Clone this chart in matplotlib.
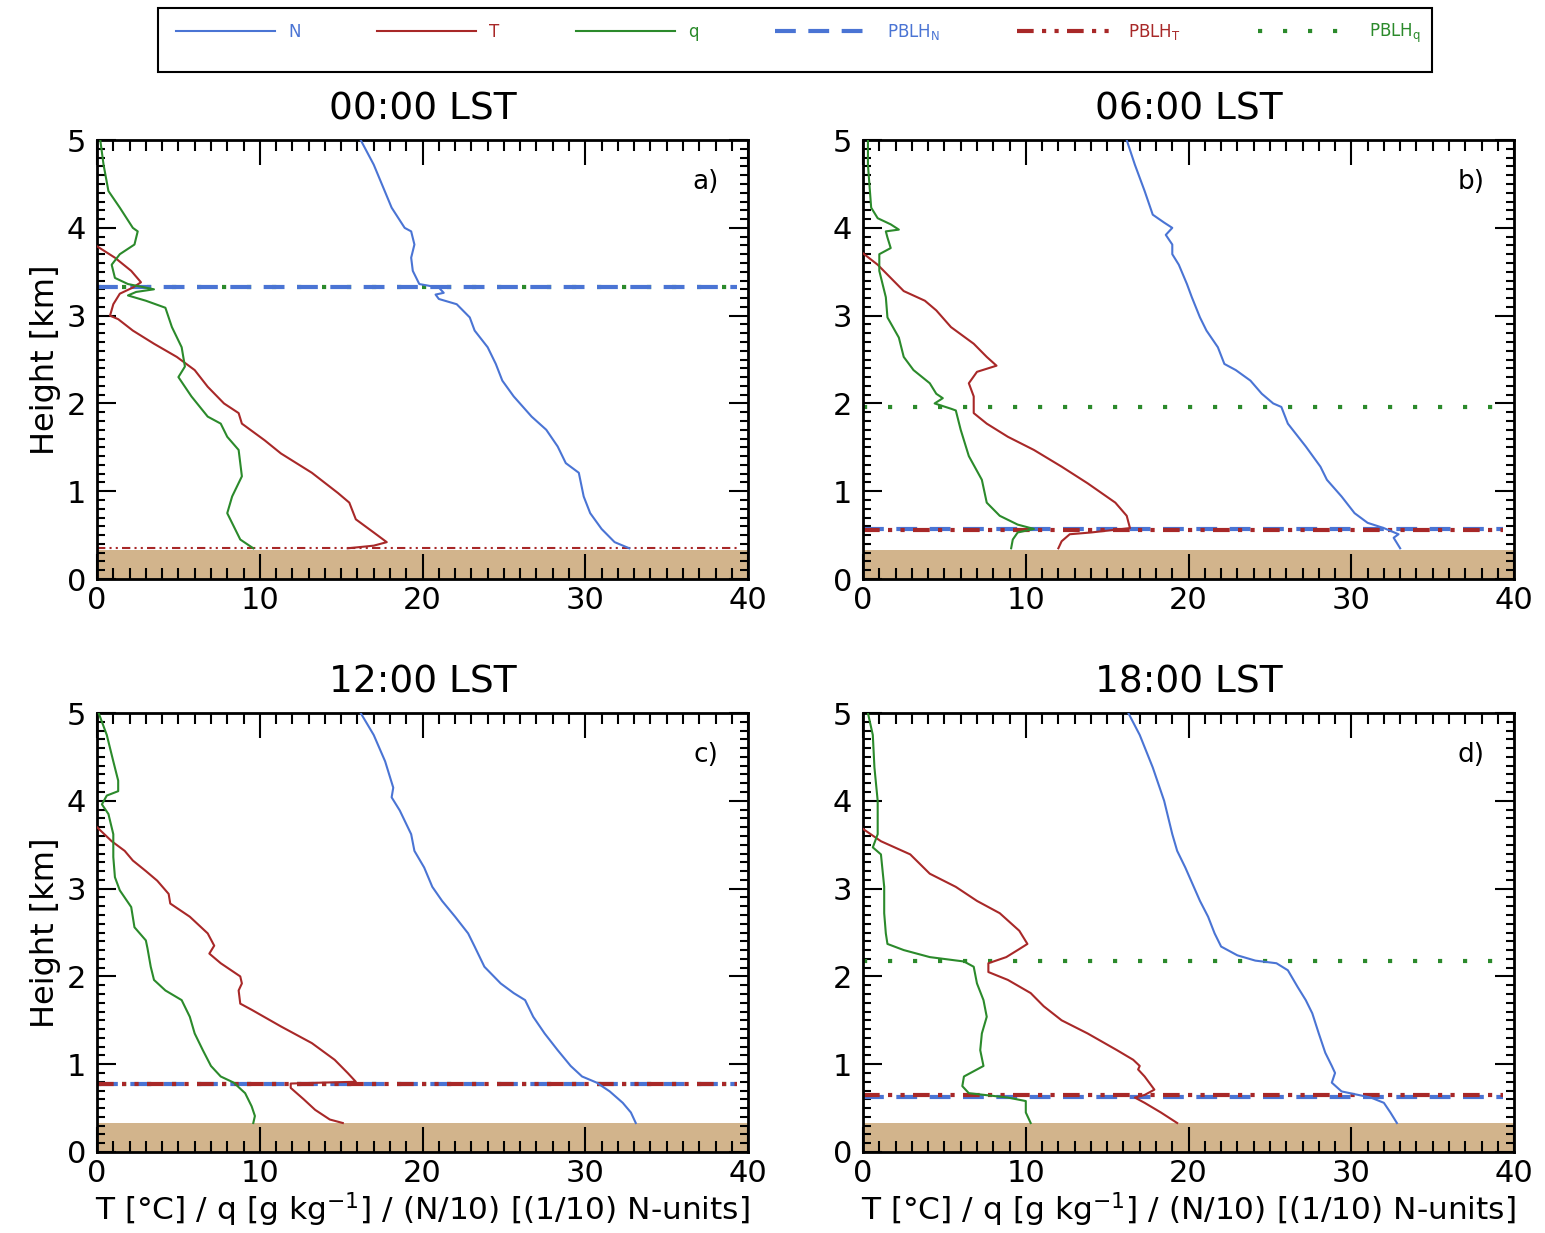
import numpy as np
import matplotlib
matplotlib.use('Agg')
import matplotlib.pyplot as plt
from matplotlib.lines import Line2D
from matplotlib.patches import Rectangle
from matplotlib.ticker import MultipleLocator

# colours
c_N = '#4a74d4'
c_T = '#a82828'
c_q = '#2b8a2b'
c_ground = '#d2b48c'

titles = ['00:00 LST', '06:00 LST', '12:00 LST', '18:00 LST']
tags = ['a)', 'b)', 'c)', 'd)']
ground_top = 0.33

# ---- 00:00 LST (a) ----
a_N_z = [5.0, 4.72, 4.23, 4.0, 3.96, 3.81, 3.66, 3.51, 3.36, 3.32, 3.26, 3.24, 3.19, 3.13, 2.98, 2.83, 2.64, 2.45, 2.26, 2.08, 1.85, 1.70, 1.51, 1.32, 1.21, 0.94, 0.75, 0.57, 0.42, 0.35]
a_N_x = [16.2, 17.0, 18.1, 18.9, 19.3, 19.5, 19.3, 19.4, 19.8, 21.0, 21.3, 20.8, 21.0, 22.1, 22.9, 23.2, 24.0, 24.5, 24.9, 25.6, 26.7, 27.6, 28.3, 28.8, 29.6, 29.9, 30.3, 31.0, 31.8, 32.7]
a_T_z = [3.79, 3.66, 3.51, 3.38, 3.32, 3.25, 3.13, 3.0, 2.96, 2.83, 2.68, 2.53, 2.38, 2.19, 2.0, 1.89, 1.77, 1.58, 1.43, 1.21, 0.98, 0.87, 0.68, 0.53, 0.42, 0.38, 0.35]
a_T_x = [0.0, 1.1, 2.1, 2.7, 2.2, 1.4, 1.0, 0.8, 1.3, 2.2, 3.5, 4.9, 6.0, 6.8, 7.8, 8.7, 8.9, 10.3, 11.3, 13.2, 14.8, 15.5, 15.9, 17.0, 17.8, 17.0, 15.4]
a_q_z = [5.0, 4.72, 4.42, 4.23, 4.0, 3.96, 3.81, 3.70, 3.58, 3.43, 3.36, 3.30, 3.27, 3.23, 3.17, 3.09, 2.87, 2.64, 2.42, 2.30, 2.08, 1.85, 1.77, 1.62, 1.47, 1.17, 0.94, 0.75, 0.60, 0.45, 0.35]
a_q_x = [0.2, 0.4, 0.7, 1.4, 2.2, 2.5, 2.3, 1.4, 0.9, 1.1, 1.9, 3.5, 2.4, 1.9, 3.0, 4.2, 4.6, 5.2, 5.4, 5.0, 5.8, 6.8, 7.6, 8.0, 8.7, 8.9, 8.3, 8.0, 8.4, 8.8, 9.6]

# ---- 06:00 LST (b) ----
b_N_z = [5.0, 4.72, 4.42, 4.15, 4.06, 4.0, 3.92, 3.81, 3.70, 3.58, 3.36, 3.21, 2.98, 2.83, 2.64, 2.45, 2.38, 2.26, 2.11, 2.0, 1.96, 1.77, 1.51, 1.28, 1.13, 0.94, 0.75, 0.64, 0.58, 0.51, 0.47, 0.35]
b_N_x = [16.2, 16.7, 17.3, 17.8, 18.5, 19.0, 18.6, 19.0, 19.0, 19.4, 19.9, 20.2, 20.7, 21.1, 21.8, 22.2, 22.9, 23.8, 24.5, 25.2, 25.7, 26.1, 27.2, 28.1, 28.5, 29.4, 30.2, 31.0, 32.0, 32.9, 32.6, 33.0]
b_T_z = [3.71, 3.58, 3.43, 3.28, 3.17, 3.06, 2.87, 2.68, 2.53, 2.43, 2.36, 2.23, 2.08, 1.89, 1.77, 1.62, 1.47, 1.28, 1.09, 0.87, 0.72, 0.58, 0.53, 0.51, 0.43, 0.35]
b_T_x = [0.0, 0.9, 1.7, 2.5, 3.8, 4.5, 5.4, 6.8, 7.6, 8.2, 7.0, 6.5, 6.8, 6.8, 7.6, 8.9, 10.5, 12.2, 13.8, 15.5, 16.2, 16.4, 14.0, 12.7, 12.2, 12.0]
b_q_z = [5.0, 4.72, 4.23, 4.11, 4.04, 3.98, 3.96, 3.89, 3.77, 3.70, 3.51, 3.21, 2.98, 2.75, 2.53, 2.38, 2.23, 2.11, 2.06, 2.0, 1.94, 1.92, 1.70, 1.40, 1.13, 0.87, 0.72, 0.62, 0.57, 0.53, 0.45, 0.35]
b_q_x = [0.3, 0.3, 0.5, 0.9, 1.7, 2.2, 1.4, 1.5, 1.7, 1.0, 1.0, 1.4, 1.5, 2.2, 2.5, 3.1, 4.1, 4.5, 4.9, 4.4, 5.4, 5.7, 6.0, 6.5, 7.3, 7.6, 8.4, 9.5, 10.5, 9.5, 9.2, 9.1]

# ---- 12:00 LST (c) ----
c_N_z = [5.0, 4.75, 4.45, 4.15, 4.04, 3.89, 3.62, 3.43, 3.24, 3.02, 2.86, 2.68, 2.49, 2.34, 2.11, 1.92, 1.81, 1.73, 1.54, 1.35, 1.16, 0.98, 0.86, 0.79, 0.69, 0.56, 0.45, 0.33]
c_N_x = [16.2, 17.0, 17.7, 18.2, 18.1, 18.6, 19.3, 19.5, 20.1, 20.6, 21.2, 22.0, 22.8, 23.2, 23.8, 24.8, 25.6, 26.3, 26.8, 27.5, 28.3, 29.1, 29.8, 30.7, 31.5, 32.3, 32.8, 33.1]
c_T_z = [3.70, 3.54, 3.43, 3.32, 3.20, 3.09, 2.94, 2.83, 2.68, 2.49, 2.35, 2.26, 2.15, 2.0, 1.92, 1.84, 1.69, 1.62, 1.43, 1.24, 1.05, 0.90, 0.80, 0.79, 0.78, 0.73, 0.60, 0.48, 0.37, 0.33]
c_T_x = [0.0, 0.9, 1.7, 2.2, 3.0, 3.7, 4.4, 4.5, 5.7, 6.8, 7.2, 6.9, 7.6, 8.8, 8.9, 8.7, 8.8, 9.5, 11.3, 13.2, 14.6, 15.4, 15.9, 13.8, 11.9, 11.9, 12.7, 13.4, 14.3, 15.1]
c_q_z = [5.0, 4.75, 4.45, 4.23, 4.11, 4.06, 3.96, 3.85, 3.62, 3.36, 3.13, 2.98, 2.79, 2.56, 2.41, 2.32, 2.11, 1.96, 1.84, 1.73, 1.54, 1.35, 1.16, 0.98, 0.86, 0.79, 0.67, 0.52, 0.41, 0.33]
c_q_x = [0.1, 0.6, 1.0, 1.3, 1.3, 0.6, 0.3, 0.7, 1.0, 1.0, 1.1, 1.4, 2.1, 2.3, 3.0, 3.1, 3.3, 3.5, 4.2, 5.2, 5.7, 6.0, 6.5, 7.0, 7.6, 8.4, 9.1, 9.5, 9.7, 9.6]

# ---- 18:00 LST (d) ----
d_N_z = [5.0, 4.75, 4.38, 4.0, 3.62, 3.43, 3.24, 2.86, 2.68, 2.49, 2.34, 2.24, 2.18, 2.15, 2.07, 1.88, 1.73, 1.58, 1.35, 1.13, 0.98, 0.90, 0.79, 0.69, 0.62, 0.56, 0.45, 0.33]
d_N_x = [16.3, 17.0, 17.8, 18.5, 19.0, 19.3, 19.8, 20.7, 21.2, 21.6, 22.0, 23.0, 24.1, 25.4, 26.1, 26.7, 27.2, 27.6, 28.0, 28.4, 28.8, 29.0, 28.8, 29.4, 31.2, 32.0, 32.4, 32.8]
d_T_z = [3.68, 3.54, 3.39, 3.17, 3.02, 2.86, 2.72, 2.52, 2.37, 2.30, 2.22, 2.15, 2.05, 1.96, 1.81, 1.66, 1.50, 1.35, 1.16, 1.05, 0.98, 0.94, 0.86, 0.71, 0.65, 0.62, 0.56, 0.45, 0.33]
d_T_x = [0.0, 1.1, 2.9, 4.1, 5.7, 7.0, 8.4, 9.6, 10.1, 9.5, 8.8, 7.7, 7.7, 8.9, 10.3, 11.1, 12.2, 13.8, 15.6, 16.6, 17.0, 16.9, 17.3, 17.9, 17.3, 16.7, 17.3, 18.3, 19.3]
d_q_z = [5.0, 4.75, 4.38, 4.0, 3.62, 3.47, 3.39, 3.02, 2.72, 2.49, 2.37, 2.30, 2.22, 2.17, 2.11, 1.92, 1.73, 1.54, 1.35, 1.16, 0.98, 0.86, 0.75, 0.67, 0.62, 0.58, 0.45, 0.33]
d_q_x = [0.3, 0.6, 0.7, 0.9, 0.9, 0.6, 1.1, 1.3, 1.3, 1.4, 1.5, 2.5, 4.1, 6.2, 6.8, 7.0, 7.4, 7.6, 7.3, 7.2, 7.4, 6.2, 6.1, 6.5, 8.9, 10.0, 10.0, 10.3]

# boundary layer heights [km] per panel (N, T, q)
pblh_N = [3.33, 0.57, 0.78, 0.63]
pblh_T = [0.35, 0.56, 0.78, 0.65]
pblh_q = [3.33, 1.96, 0.78, 2.17]

profiles = [
    (a_N_x, a_N_z, a_T_x, a_T_z, a_q_x, a_q_z),
    (b_N_x, b_N_z, b_T_x, b_T_z, b_q_x, b_q_z),
    (c_N_x, c_N_z, c_T_x, c_T_z, c_q_x, c_q_z),
    (d_N_x, d_N_z, d_T_x, d_T_z, d_q_x, d_q_z),
]

plt.rcParams['font.family'] = 'DejaVu Sans'

dash_N = (0, (5, 3))
dash_T = (0, (4, 2, 1, 2, 1, 2))
dot_q = (0, (1, 5))

fig = plt.figure(figsize=(15.45, 12.33), dpi=100)
lefts = [0.0628, 0.5586, 0.0628, 0.5586]
bottoms = [0.5304, 0.5304, 0.0657, 0.0657]
w, h = 0.4214, 0.356

for i in range(4):
    ax = fig.add_axes([lefts[i], bottoms[i], w, h])
    Nx, Nz, Tx, Tz, qx, qz = profiles[i]
    ax.axhspan(0, ground_top, color=c_ground, zorder=1, lw=0)
    ax.plot(Nx, Nz, color=c_N, lw=1.5, zorder=3)
    ax.plot(Tx, Tz, color=c_T, lw=1.5, zorder=3)
    ax.plot(qx, qz, color=c_q, lw=1.5, zorder=3)
    ax.hlines(pblh_q[i], 0, 39.3, colors=c_q, linestyles=dot_q, lw=3, zorder=2)
    ax.hlines(pblh_N[i], 0, 39.3, colors=c_N, linestyles=dash_N, lw=3, zorder=2)
    ax.hlines(pblh_T[i], 0, 39.3, colors=c_T, linestyles=dash_T, lw=3 if i else 1.5, zorder=2)

    ax.set_xlim(0, 40)
    ax.set_ylim(0, 5)
    ax.xaxis.set_major_locator(MultipleLocator(10))
    ax.xaxis.set_minor_locator(MultipleLocator(1))
    ax.yaxis.set_major_locator(MultipleLocator(1))
    ax.yaxis.set_minor_locator(MultipleLocator(0.1))
    ax.tick_params(which='both', direction='in', top=True, right=True, labelsize=22, width=1.5)
    ax.tick_params(axis='x', which='major', length=18, pad=5)
    ax.tick_params(axis='x', which='minor', length=8)
    ax.tick_params(axis='y', which='major', length=14, pad=8)
    ax.tick_params(axis='y', which='minor', length=6)
    for s in ax.spines.values():
        s.set_linewidth(2)
    ax.set_title(titles[i], fontsize=27, pad=15)
    ax.text(0.955, 0.905, tags[i], transform=ax.transAxes, ha='right', va='center', fontsize=19)
    if i % 2 == 0:
        ax.set_ylabel('Height [km]', fontsize=23, labelpad=4)
    if i >= 2:
        ax.set_xlabel('T [°C] / q [g kg$^{-1}$] / (N/10) [(1/10) N-units]', fontsize=22.5, labelpad=2)

# legend box at the top, entries sit in its upper half
fig.patches.append(Rectangle((0.102, 0.9416), 0.825, 0.0519, transform=fig.transFigure,
                             fill=False, edgecolor='black', lw=1.5))
handles = [
    Line2D([], [], color=c_N, lw=1.5),
    Line2D([], [], color=c_T, lw=1.5),
    Line2D([], [], color=c_q, lw=1.5),
    Line2D([], [], color=c_N, lw=3, linestyle=dash_N),
    Line2D([], [], color=c_T, lw=3, linestyle=dash_T),
    Line2D([], [], color=c_q, lw=3, linestyle=dot_q),
]
labels = ['N', 'T', 'q', r'PBLH$_\mathrm{N}$', r'PBLH$_\mathrm{T}$', r'PBLH$_\mathrm{q}$']
leg = fig.legend(handles, labels, loc='upper left', bbox_to_anchor=(0.112, 0.955, 0.81, 0.03),
                 mode='expand', ncol=6, fontsize=12, handlelength=5.9, frameon=False,
                 borderaxespad=0, borderpad=0.2)
for txt, col in zip(leg.get_texts(), [c_N, c_T, c_q, c_N, c_T, c_q]):
    txt.set_color(col)

fig.savefig('out.png', dpi=100)
